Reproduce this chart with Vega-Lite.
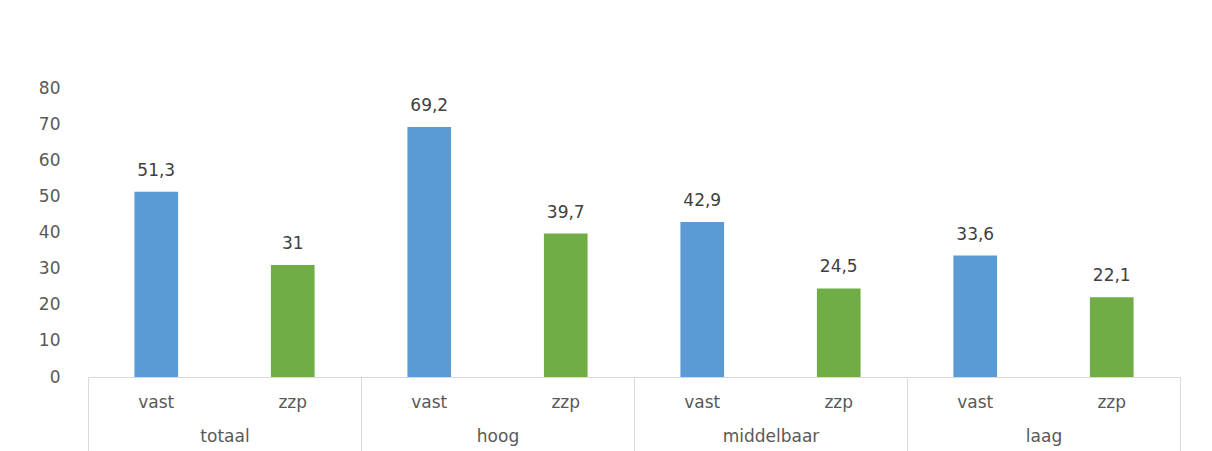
{
  "$schema": "https://vega.github.io/schema/vega-lite/v6.json",
  "width": 1092,
  "height": 289,
  "autosize": {"type": "none"},
  "padding": {"left": 88, "top": 88, "right": 32, "bottom": 74},
  "background": "white",
  "config": {
    "view": {"stroke": null},
    "font": "DejaVu Sans",
    "axisY": {"labelOverlap": false},
    "locale": {"number": {"decimal": ",", "thousands": ".", "grouping": [3], "currency": ["€", ""]}}
  },
  "data": {
    "values": [
      {"groep": "totaal", "type": "vast", "waarde": 51.3},
      {"groep": "totaal", "type": "zzp", "waarde": 31},
      {"groep": "hoog", "type": "vast", "waarde": 69.2},
      {"groep": "hoog", "type": "zzp", "waarde": 39.7},
      {"groep": "middelbaar", "type": "vast", "waarde": 42.9},
      {"groep": "middelbaar", "type": "zzp", "waarde": 24.5},
      {"groep": "laag", "type": "vast", "waarde": 33.6},
      {"groep": "laag", "type": "zzp", "waarde": 22.1}
    ]
  },
  "encoding": {
    "x": {
      "field": "groep", "type": "nominal",
      "sort": ["totaal", "hoog", "middelbaar", "laag"],
      "scale": {"paddingInner": 0, "paddingOuter": 0},
      "axis": {
        "title": null, "labelAngle": 0, "tickBand": "extent",
        "domainColor": "#d9d9d9", "tickColor": "#d9d9d9", "tickSize": 74, "domainWidth": 1, "tickWidth": 1,
        "labelPadding": -23, "labelFontSize": 17, "labelColor": "#595959", "labelFont": "DejaVu Sans"
      }
    },
    "xOffset": {
      "field": "type", "type": "nominal",
      "scale": {"paddingInner": 0.68, "paddingOuter": 0.34}
    },
    "y": {
      "field": "waarde", "type": "quantitative",
      "scale": {"domain": [0, 80], "nice": false},
      "axis": {
        "title": null, "values": [0, 10, 20, 30, 40, 50, 60, 70, 80], "labelOverlap": false, "tickCount": 9,
        "grid": false, "domain": false, "ticks": false, "labelPadding": 28,
        "labelFontSize": 17, "labelColor": "#595959", "labelFont": "DejaVu Sans"
      }
    }
  },
  "layer": [
    {
      "mark": {"type": "bar"},
      "encoding": {
        "color": {
          "field": "type", "type": "nominal",
          "scale": {"domain": ["vast", "zzp"], "range": ["#5B9BD5", "#70AD47"]},
          "legend": null
        }
      }
    },
    {
      "mark": {"type": "text", "baseline": "bottom", "dy": -12, "fontSize": 17, "color": "#404040"},
      "encoding": {
        "text": {"field": "waarde", "type": "quantitative", "format": "~g"}
      }
    },
    {
      "mark": {"type": "text", "baseline": "middle", "dy": 26, "fontSize": 17, "color": "#595959"},
      "encoding": {
        "y": {"datum": 0},
        "text": {"field": "type"}
      }
    }
  ]
}
